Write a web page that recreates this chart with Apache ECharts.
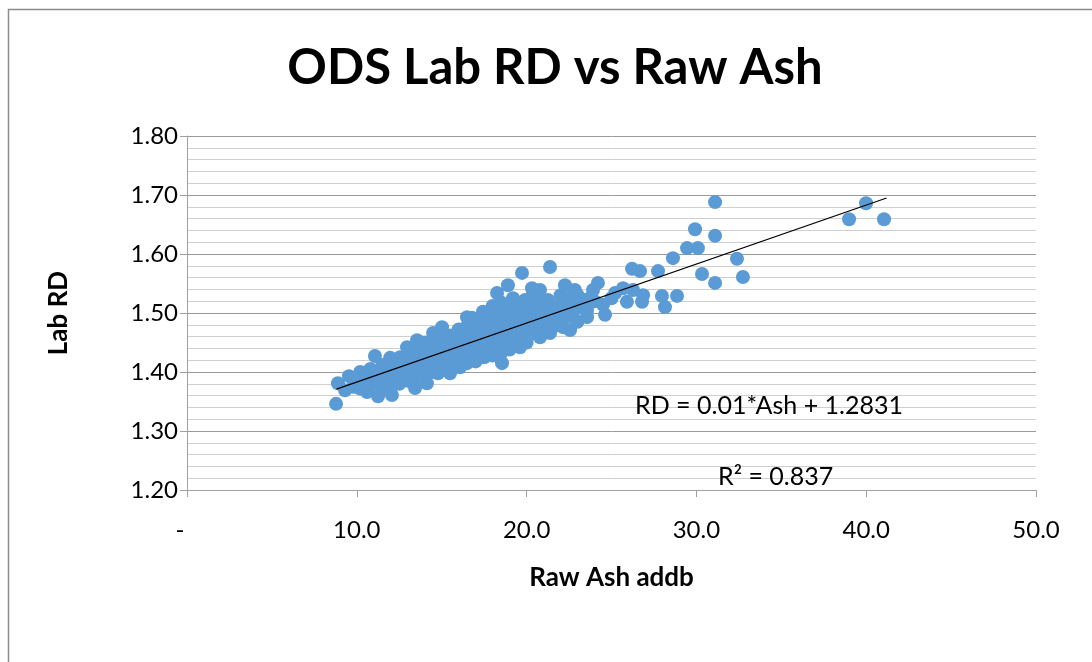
<!DOCTYPE html>
<html>
<head>
<meta charset="utf-8">
<script src="https://cdn.jsdelivr.net/npm/echarts@6/dist/echarts.min.js"></script>
<style>
html,body{margin:0;padding:0;background:#fff;}
#chart{width:1092px;height:662px;}
</style>
</head>
<body>
<div id="chart"></div>
<script>
// Raw Ash (addb) values
var ashValues = [
  8.78, 8.89, 9.54, 9.31, 10.37, 10.60, 11.07, 11.25, 11.37, 11.96, 12.07, 12.54, 12.54, 12.96, 13.02,
  13.43, 13.55, 13.72, 14.13, 14.31, 14.49, 14.49, 14.78, 15.02, 15.49, 15.49, 16.08, 16.49, 16.78, 16.84,
  17.43, 17.84, 18.14, 18.26, 18.55, 18.90, 19.20, 19.20, 19.32, 19.61, 19.61, 19.73, 19.91, 20.02, 20.20,
  20.32, 20.38, 20.67, 20.79, 20.79, 21.08, 21.20, 21.26, 21.38, 21.38, 21.79, 21.85, 22.14, 22.14, 22.26,
  22.38, 22.56, 22.73, 22.85, 22.97, 23.32, 23.56, 23.56, 23.73, 23.91, 24.20, 24.50, 24.62, 25.21, 25.68,
  25.91, 26.21, 26.27, 26.68, 26.80, 26.86, 27.74, 27.97, 28.15, 28.62, 28.86, 29.45, 29.92, 30.09, 30.33,
  31.10, 31.10, 31.10, 32.39, 32.74, 38.99, 39.99, 41.05,
  9.8, 9.8, 10.2, 10.2, 10.2, 10.8, 10.8, 10.8, 11.5, 11.5, 11.5, 11.5, 12.0, 12.0, 12.0, 12.0,
  12.5, 12.5, 12.5, 12.5, 13.0, 13.0, 13.0, 13.0, 13.5, 13.5, 13.5, 13.5, 14.0, 14.0, 14.0, 14.0, 14.0,
  14.5, 14.5, 14.5, 14.5, 14.5, 15.0, 15.0, 15.0, 15.0, 15.0, 15.0, 15.5, 15.5, 15.5, 15.5, 15.5,
  16.0, 16.0, 16.0, 16.0, 16.0, 16.0, 16.5, 16.5, 16.5, 16.5, 16.5, 16.5, 17.0, 17.0, 17.0, 17.0, 17.0, 17.0,
  17.5, 17.5, 17.5, 17.5, 17.5, 17.5, 18.0, 18.0, 18.0, 18.0, 18.0, 18.0, 18.0,
  18.5, 18.5, 18.5, 18.5, 18.5, 18.5, 18.5, 19.0, 19.0, 19.0, 19.0, 19.0, 19.0,
  19.5, 19.5, 19.5, 19.5, 19.5, 20.0, 20.0, 20.0, 20.0, 20.0, 20.5, 20.5, 20.5, 20.5, 20.5,
  21.0, 21.0, 21.0, 21.0, 21.5, 21.5, 21.5, 22.0, 22.0, 22.5, 22.5, 23.0, 23.0, 24.0, 25.0
];
// Lab RD values (same order)
var rdValues = [
  1.346, 1.381, 1.393, 1.369, 1.383, 1.366, 1.427, 1.359, 1.392, 1.424, 1.361, 1.425, 1.395, 1.442, 1.408,
  1.373, 1.454, 1.415, 1.381, 1.400, 1.466, 1.425, 1.398, 1.476, 1.420, 1.398, 1.408, 1.493, 1.492, 1.420,
  1.502, 1.493, 1.505, 1.534, 1.415, 1.547, 1.525, 1.517, 1.505, 1.459, 1.442, 1.568, 1.522, 1.514, 1.471,
  1.542, 1.534, 1.488, 1.539, 1.459, 1.502, 1.510, 1.522, 1.578, 1.466, 1.500, 1.480, 1.519, 1.476, 1.547,
  1.510, 1.471, 1.517, 1.539, 1.508, 1.522, 1.505, 1.493, 1.525, 1.539, 1.551, 1.514, 1.497, 1.534, 1.542,
  1.519, 1.575, 1.539, 1.571, 1.519, 1.530, 1.571, 1.529, 1.510, 1.593, 1.529, 1.610, 1.642, 1.610, 1.566,
  1.688, 1.631, 1.551, 1.592, 1.561, 1.659, 1.686, 1.659,
  1.375, 1.390, 1.372, 1.388, 1.400, 1.378, 1.395, 1.405, 1.372, 1.385, 1.400, 1.412, 1.378, 1.392, 1.405, 1.418,
  1.380, 1.388, 1.410, 1.420, 1.385, 1.398, 1.415, 1.428, 1.392, 1.405, 1.420, 1.435, 1.395, 1.410, 1.428, 1.440, 1.450,
  1.400, 1.412, 1.432, 1.445, 1.455, 1.405, 1.418, 1.430, 1.442, 1.458, 1.465, 1.410, 1.425, 1.438, 1.450, 1.462,
  1.412, 1.422, 1.435, 1.448, 1.460, 1.472, 1.415, 1.428, 1.442, 1.455, 1.468, 1.478, 1.418, 1.430, 1.445, 1.458, 1.470, 1.482,
  1.425, 1.438, 1.450, 1.462, 1.475, 1.488, 1.428, 1.440, 1.452, 1.465, 1.478, 1.492, 1.512,
  1.432, 1.445, 1.458, 1.470, 1.485, 1.498, 1.518, 1.438, 1.450, 1.462, 1.475, 1.490, 1.505,
  1.448, 1.468, 1.480, 1.495, 1.510, 1.450, 1.462, 1.478, 1.492, 1.505, 1.465, 1.480, 1.498, 1.515, 1.528,
  1.470, 1.485, 1.495, 1.520, 1.475, 1.490, 1.512, 1.488, 1.530, 1.495, 1.525, 1.485, 1.530, 1.520, 1.525
];
// Linear trendline end points
var trendAsh = [8.8, 41.2];
var trendRd = [1.371, 1.695];
// Tick labels
var xTickLabels = ['-', '10.0', '20.0', '30.0', '40.0', '50.0'];
var yTickLabels = ['1.20', '1.30', '1.40', '1.50', '1.60', '1.70', '1.80'];

var titleText = 'ODS Lab RD vs Raw Ash';
var xName = 'Raw Ash addb';
var yName = 'Lab RD';
var eqText = 'RD = 0.01*Ash + 1.2831';
var r2Text = 'R² = 0.837';

var scatterData = ashValues.map(function (x, i) { return [x, rdValues[i]]; });
var trendData = trendAsh.map(function (x, i) { return [x, trendRd[i]]; });

var FONT = 'Lato, "Open Sans", sans-serif';
var chart = echarts.init(document.getElementById('chart'), null, {renderer: 'canvas'});
chart.setOption({
  backgroundColor: '#ffffff',
  animation: false,
  title: {
    text: titleText,
    left: 550, top: 39, textAlign: 'center',
    textStyle: {fontFamily: FONT, fontWeight: 'bold', fontSize: 49, color: '#000'}
  },
  grid: {left: 187, right: 56, top: 136, bottom: 172, containLabel: false},
  xAxis: {
    type: 'value', min: 0, max: 50, interval: 10,
    name: xName, nameLocation: 'middle', nameGap: 75,
    nameTextStyle: {fontFamily: FONT, fontWeight: 'bold', fontSize: 26, color: '#000'},
    axisLine: {show: true, lineStyle: {color: '#a0a0a0', width: 1}},
    axisTick: {show: true, length: 7, lineStyle: {color: '#a0a0a0'}},
    axisLabel: {
      fontFamily: FONT, fontSize: 24, color: '#000', margin: 28,
      formatter: function (v) {
        var i = Math.round(v / 10);
        return i === 0 ? '{dash|' + xTickLabels[i] + '}' : xTickLabels[i];
      },
      rich: {dash: {fontFamily: FONT, fontSize: 24, color: '#000', padding: [0, 14, 0, 0]}}
    },
    splitLine: {show: false}
  },
  yAxis: {
    type: 'value', min: 1.2, max: 1.8, interval: 0.1,
    name: yName, nameLocation: 'middle', nameGap: 115, nameRotate: 90,
    nameTextStyle: {fontFamily: FONT, fontWeight: 'bold', fontSize: 26, color: '#000'},
    axisLine: {show: true, lineStyle: {color: '#a0a0a0', width: 1}},
    axisTick: {show: true, length: 7, lineStyle: {color: '#a0a0a0'}},
    axisLabel: {
      fontFamily: FONT, fontSize: 24, color: '#000', margin: 9,
      formatter: function (v) { return yTickLabels[Math.round((v - 1.2) * 10)]; }
    },
    splitLine: {show: true, lineStyle: {color: '#9a9a9a', width: 1}},
    minorTick: {show: false, splitNumber: 5},
    minorSplitLine: {show: true, lineStyle: {color: '#cfcfcf', width: 1}}
  },
  series: [
    {
      type: 'scatter', data: scatterData, symbol: 'circle', symbolSize: 14,
      itemStyle: {color: '#5b9bd5', opacity: 1}, z: 2
    },
    {
      type: 'line', data: trendData, showSymbol: false, symbol: 'none',
      lineStyle: {color: '#000', width: 1.2}, z: 3, silent: true
    }
  ],
  graphic: [
    {type: 'rect', shape: {x: 8.5, y: 9.5, width: 1100, height: 700}, style: {fill: 'none', stroke: '#8c8c8c', lineWidth: 1.5}, silent: true},
    {type: 'text', left: 635, top: 393, style: {text: eqText, font: '25px ' + FONT, fill: '#000'}, z: 10},
    {type: 'text', left: 718, top: 464, style: {text: r2Text, font: '25px ' + FONT, fill: '#000'}, z: 10}
  ]
});
</script>
</body>
</html>
